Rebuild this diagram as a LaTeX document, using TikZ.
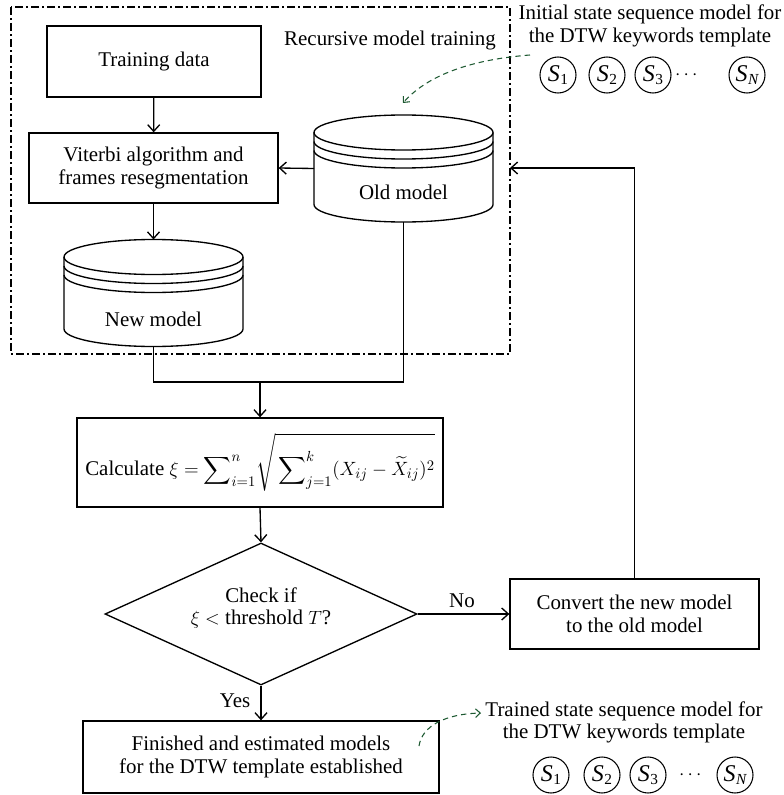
\documentclass[tikz,border=0pt]{standalone}
\usepackage{amsmath}
\usepackage{fontspec}
\setmainfont{Liberation Serif}
\usetikzlibrary{arrows.meta,shapes.geometric,calc}
\definecolor{dkgreen}{RGB}{30,90,50}

% stacked-disk symbol for a stored model, centred at (#1,#2)
\newcommand\drumshape[2]{%
  \draw ({#1},{#2-36}) ellipse[x radius=67.125pt,y radius=13.125pt];
  \draw ({#1-89.5},{#2-27}) arc[start angle=180,end angle=360,x radius=67.125pt,y radius=13.125pt];
  \draw ({#1-89.5},{#2-18}) arc[start angle=180,end angle=360,x radius=67.125pt,y radius=13.125pt];
  \draw ({#1-89.5},{#2-36}) -- ({#1-89.5},{#2+36})
        arc[start angle=180,end angle=360,x radius=67.125pt,y radius=13.125pt]
        -- ({#1+89.5},{#2-36});
}
% state label: italic S with a lowered index
\newcommand\stlab[1]{{\fontsize{18}{18}\selectfont\itshape S}\kern0.3pt\raisebox{-0.35ex}{\fontsize{11.5}{11.5}\selectfont #1}}

\begin{document}
\begin{tikzpicture}[x=0.75pt,y=-0.75pt,
  font=\fontsize{15.7}{17}\selectfont,
  line width=1pt,
  arr/.style={-{Straight Barb[length=5pt,width=9pt]}},
  garr/.style={draw=dkgreen,line width=0.8pt,dash pattern=on 4pt off 3pt,
               -{Straight Barb[length=3.5pt,width=6.5pt]}},
  box/.style={draw,rectangle,inner sep=0pt,align=center},
  drum/.style={rectangle,inner sep=0pt,outer sep=0pt,minimum width=134.25pt,minimum height=80.25pt},
  statec/.style={draw,circle,inner sep=0pt,minimum size=27pt,line width=0.8pt},
  txt/.style={align=center,inner sep=0pt}]
\useasboundingbox (0,0) rectangle (784,795);

% recursive training frame
\draw[line width=0.8pt,dash pattern=on 6pt off 2.5pt on 1pt off 2.5pt] (11,7) rectangle (510,354);
\node[txt] (rec) at (390,40) {Recursive model training};

% process boxes
\node[box,minimum width=160.5pt,minimum height=53.25pt] (train) at (154,61.5) {Training data};
\node[box,minimum width=186.75pt,minimum height=52.5pt] (vit) at (153.5,168) {Viterbi algorithm and\\frames resegmentation};
\node[box,minimum width=274.5pt,minimum height=66.75pt] (calc) at (260,462.5)
  {Calculate $\xi = \displaystyle\sum\nolimits_{i=1}^{n}\!\sqrt{\rule[-9pt]{0pt}{36pt}\sum\nolimits_{j=1}^{k}(X_{ij}-\widetilde{X}_{ij})^{2}}$};
\node[draw,diamond,inner sep=0pt,minimum width=234pt,minimum height=106.5pt] (check) at (261,614) {};
\node[txt] (checkt) at (261,608) {Check if\\$\xi<{}$threshold $T$?};
\node[box,minimum width=186.75pt,minimum height=52.5pt] (conv) at (634.5,614) {Convert the new model\\to the old model};
\node[box,minimum width=267pt,minimum height=54pt] (fin) at (261,757) {Finished and estimated models\\for the DTW template established};

% stored models
\node[drum] (oldm) at (403.5,168.5) {};
\drumshape{403.5}{168.5}
\node[txt] (oldt) at (403.5,192) {Old model};
\node[drum] (newm) at (153.5,293) {};
\drumshape{153.5}{293}
\node[txt] (newt) at (153.5,319) {New model};

% connectors
\draw[arr] (train) -- (vit);
\draw[arr] (vit) -- (newm);
\draw[arr] (oldm.west) -- (vit.east);
\coordinate (join) at (260,382);
\draw (newm.south) |- (join);
\draw (oldm.south) |- (join);
\draw[arr] (join) -- (calc.north);
\draw[arr] (calc.south) -- (check.north);
\draw[arr] (check.east) -- (conv.west);
\node[txt] (nolab) at (462,601) {No};
\draw[arr] (check.south) -- (fin.north);
\node[txt,anchor=east] (yeslab) at (251,701) {Yes};
\coordinate (fb) at (510,168);
\draw[arr] (conv.north) |- (fb);

% initial state sequence
\node[txt] (initt) at (650,26) {Initial state sequence model for\\the DTW keywords template};
\node[statec] (a1) at (558,75) {\stlab{1}};
\node[statec] (a2) at (607,75) {\stlab{2}};
\node[statec] (a3) at (653,75) {\stlab{3}};
\node[txt] (adots) at (688,75) {$\cdots$};
\node[statec] (aN) at (747,75) {\stlab{\itshape N}};
\coordinate (g1) at (530,55);
\coordinate (g2) at (403,103);
\draw[garr] (g1) .. controls (465,60) and (425,78) .. (g2);

% trained state sequence
\node[txt] (trt) at (624,722.5) {Trained state sequence model for\\the DTW keywords template};
\node[statec] (b1) at (551,775) {\stlab{1}};
\node[statec] (b2) at (602,775) {\stlab{2}};
\node[statec] (b3) at (648,775) {\stlab{3}};
\node[txt] (bdots) at (692,775) {$\cdots$};
\node[statec] (bN) at (735,775) {\stlab{\itshape N}};
\coordinate (h1) at (419,746);
\coordinate (h2) at (481,713);
\draw[garr] (h1) .. controls (422,726) and (445,714) .. (h2);
\end{tikzpicture}
\end{document}
